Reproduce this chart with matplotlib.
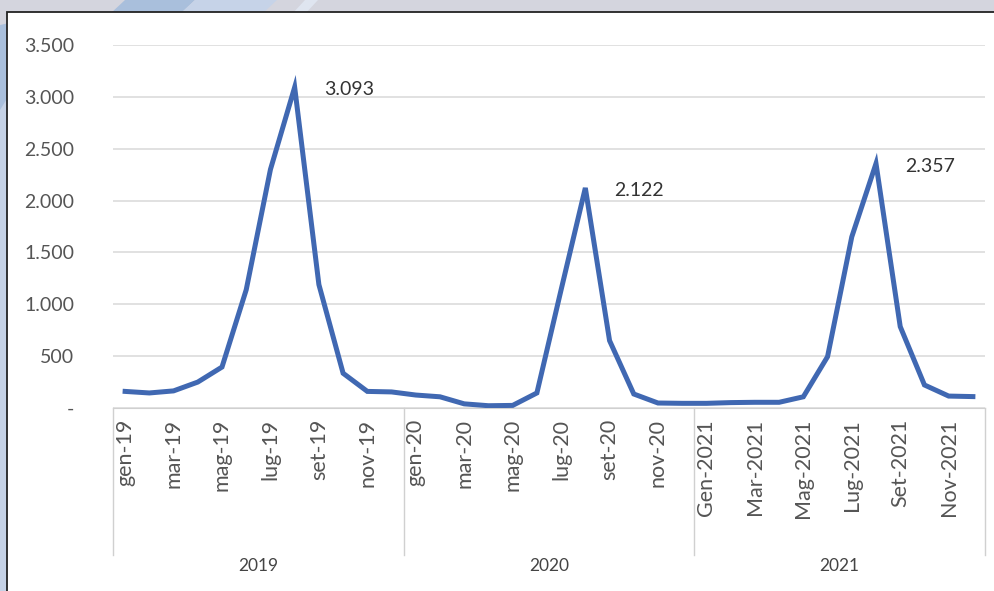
import matplotlib.pyplot as plt
import numpy as np
from matplotlib.patches import Polygon, Rectangle

plt.rcParams['font.family'] = ['Lato', 'DejaVu Sans']

# monthly values 2019-2021
values_2019 = [160, 145, 165, 250, 395, 1140, 2300, 3093, 1190, 335, 160, 155]
values_2020 = [125, 108, 40, 22, 25, 145, 1140, 2122, 650, 135, 48, 45]
values_2021 = [45, 52, 55, 55, 108, 495, 1650, 2357, 785, 222, 115, 110]
values = values_2019 + values_2020 + values_2021

month_labels = ['gen-19', 'mar-19', 'mag-19', 'lug-19', 'set-19', 'nov-19',
                'gen-20', 'mar-20', 'mag-20', 'lug-20', 'set-20', 'nov-20',
                'Gen-2021', 'Mar-2021', 'Mag-2021', 'Lug-2021', 'Set-2021', 'Nov-2021']
years = ['2019', '2020', '2021']
y_ticks = [0, 500, 1000, 1500, 2000, 2500, 3000, 3500]
peaks = [(7, '3.093'), (19, '2.122'), (31, '2.357')]

W, H = 995, 591
fig = plt.figure(figsize=(W / 100, H / 100), dpi=100)
fig.patch.set_facecolor('#d4d5de')

# decorative background
bg = fig.add_axes([0, 0, 1, 1])
bg.set_xlim(0, W)
bg.set_ylim(H, 0)
bg.axis('off')
bg.add_patch(Polygon([[0, 30], [0, 591], [10, 591], [10, 20]], closed=True, fc='#c5d2e6', ec='none'))
bg.add_patch(Polygon([[0, 25], [0, 110], [60, 12]], closed=True, fc='#a9bfdc', ec='none'))
bg.add_patch(Polygon([[110, 14], [180, 14], [195, 0], [125, 0]], closed=True, fc='#a9bfdc', ec='none'))
bg.add_patch(Polygon([[180, 14], [262, 14], [277, 0], [195, 0]], closed=True, fc='#c6d3e8', ec='none'))
bg.add_patch(Polygon([[292, 14], [305, 14], [318, 0], [305, 0]], closed=True, fc='#dfe5f0', ec='none'))
bg.add_patch(Rectangle((7, 12), W, H, fc='white', ec='#222222', lw=1.3))

ax = fig.add_axes([113 / W, 1 - 408 / H, 872 / W, 363 / H])
ax.set_facecolor('none')
x = np.arange(len(values))
ax.plot(x, values, color='#4068b2', lw=3.6, solid_joinstyle='miter', zorder=3)

for i, txt in peaks:
    ax.annotate(txt, (x[i], values[i]), xytext=(21, -2), textcoords='offset points',
                fontsize=14, color='#333333', va='center', ha='left')

ax.set_xlim(-0.5, len(values) - 0.5)
ax.set_ylim(0, 3500)
ax.set_yticks(y_ticks)
ax.set_yticklabels(['-' if v == 0 else f'{v:,}'.replace(',', '.') for v in y_ticks])
ax.grid(axis='y', color='#dcdcdc', lw=1.2)
ax.set_axisbelow(True)
for s in ['top', 'right', 'left']:
    ax.spines[s].set_visible(False)
ax.spines['bottom'].set_color('#d0d0d0')
ax.tick_params(axis='y', length=0, pad=28, labelsize=14, labelcolor='#555555')
ax.set_xticks(x[::2])
ax.set_xticklabels(month_labels, rotation=90, fontsize=15.5, color='#555555')
ax.tick_params(axis='x', length=0, pad=8)

# group separators and year labels
trans = ax.get_xaxis_transform()
for b in [-0.5, 11.5, 23.5, 35.5]:
    ax.plot([b, b], [0, -0.405], transform=trans, color='#d0d0d0', lw=1, clip_on=False)
for k, yr in enumerate(years):
    ax.text(12 * k + 5.5, -0.435, yr, transform=trans, ha='center', va='center',
            fontsize=12.5, color='#444444')

fig.savefig('out.png', dpi=100, facecolor=fig.get_facecolor())
